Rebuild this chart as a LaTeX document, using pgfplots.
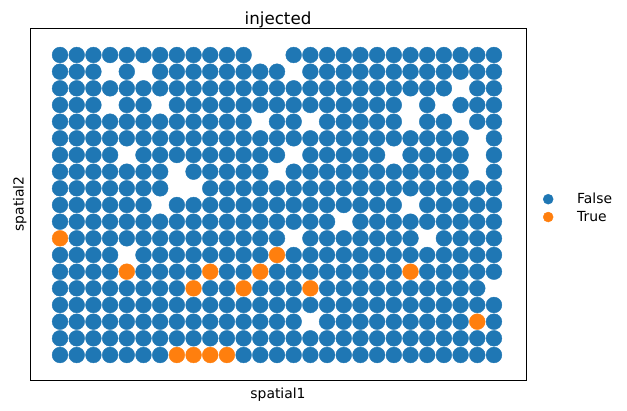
\documentclass[border=0pt]{standalone}
\usepackage{pgfplots}
\pgfplotsset{compat=1.18}
\usepackage{fontspec}
\setmainfont{DejaVu Sans}
\definecolor{tabblue}{HTML}{1F77B4}
\definecolor{taborange}{HTML}{FF7F0E}
\begin{document}
\begin{tikzpicture}[x=1pt,y=1pt]
\begin{axis}[
  scale only axis,
  width=496pt, height=352pt,
  xmin=-1.80, xmax=27.92,
  ymin=-1.62, ymax=19.5,
  y dir=reverse,
  xtick=\empty, ytick=\empty,
  axis line style={line width=0.8pt},
  title={\fontsize{16.7}{19}\selectfont injected},
  title style={yshift=-10pt},
  xlabel={\fontsize{13.9}{16}\selectfont spatial1},
  xlabel style={yshift=-4pt},
  ylabel={\fontsize{13.9}{16}\selectfont spatial2},
  legend style={draw=none, fill=none, at={(1.0,0.5)}, anchor=west, xshift=14pt, yshift=-4pt, font=\fontsize{13.9}{16}\selectfont, row sep=2pt, column sep=22pt},
  legend cell align=left,
]
\addlegendimage{only marks, mark=*, mark size=5pt, color=tabblue}
\addlegendentry{False}
\addlegendimage{only marks, mark=*, mark size=5pt, color=taborange}
\addlegendentry{True}
\addplot[forget plot, only marks, mark=*, mark size=7.9pt, color=tabblue, mark options={draw=none}] coordinates {
(0,0)(1,0)(2,0)(3,0)(4,0)(5,0)(6,0)(7,0)(8,0)(9,0)(10,0)(11,0)(14,0)(15,0)(16,0)(17,0)(18,0)(19,0)(20,0)(21,0)(22,0)(23,0)(24,0)(25,0)(26,0)
(0,1)(1,1)(2,1)(4,1)(6,1)(7,1)(8,1)(9,1)(10,1)(11,1)(12,1)(13,1)(15,1)(16,1)(17,1)(18,1)(19,1)(20,1)(21,1)(22,1)(23,1)(24,1)(25,1)(26,1)
(0,2)(1,2)(2,2)(3,2)(4,2)(5,2)(6,2)(7,2)(8,2)(9,2)(10,2)(11,2)(12,2)(13,2)(14,2)(15,2)(16,2)(17,2)(18,2)(19,2)(20,2)(21,2)(22,2)(23,2)(25,2)(26,2)
(0,3)(1,3)(2,3)(4,3)(5,3)(7,3)(8,3)(9,3)(10,3)(11,3)(12,3)(13,3)(14,3)(15,3)(16,3)(17,3)(18,3)(19,3)(20,3)(22,3)(24,3)(25,3)(26,3)
(0,4)(1,4)(2,4)(3,4)(4,4)(5,4)(6,4)(7,4)(8,4)(9,4)(10,4)(11,4)(13,4)(14,4)(16,4)(17,4)(18,4)(19,4)(20,4)(22,4)(23,4)(25,4)(26,4)
(0,5)(1,5)(2,5)(3,5)(4,5)(5,5)(6,5)(7,5)(8,5)(9,5)(10,5)(11,5)(12,5)(13,5)(14,5)(15,5)(16,5)(17,5)(18,5)(19,5)(20,5)(21,5)(22,5)(23,5)(24,5)(26,5)
(0,6)(1,6)(2,6)(3,6)(5,6)(6,6)(7,6)(8,6)(9,6)(10,6)(11,6)(12,6)(13,6)(15,6)(16,6)(17,6)(18,6)(19,6)(21,6)(22,6)(23,6)(24,6)(26,6)
(0,7)(1,7)(2,7)(3,7)(4,7)(5,7)(6,7)(8,7)(9,7)(10,7)(11,7)(12,7)(14,7)(15,7)(16,7)(17,7)(18,7)(19,7)(20,7)(21,7)(22,7)(23,7)(24,7)(26,7)
(0,8)(1,8)(2,8)(3,8)(4,8)(5,8)(6,8)(9,8)(10,8)(11,8)(12,8)(13,8)(14,8)(15,8)(16,8)(17,8)(18,8)(19,8)(20,8)(21,8)(22,8)(23,8)(24,8)(25,8)(26,8)
(0,9)(1,9)(2,9)(3,9)(4,9)(5,9)(7,9)(8,9)(9,9)(10,9)(11,9)(12,9)(13,9)(14,9)(15,9)(16,9)(17,9)(18,9)(19,9)(20,9)(22,9)(23,9)(24,9)(25,9)(26,9)
(0,10)(1,10)(2,10)(3,10)(4,10)(5,10)(6,10)(7,10)(8,10)(9,10)(10,10)(11,10)(12,10)(13,10)(14,10)(15,10)(16,10)(18,10)(19,10)(20,10)(21,10)(22,10)(23,10)(24,10)(25,10)(26,10)
(1,11)(2,11)(3,11)(4,11)(5,11)(6,11)(7,11)(8,11)(9,11)(10,11)(11,11)(12,11)(13,11)(15,11)(16,11)(17,11)(18,11)(19,11)(20,11)(21,11)(23,11)(24,11)(25,11)(26,11)
(0,12)(1,12)(2,12)(3,12)(5,12)(6,12)(7,12)(8,12)(9,12)(10,12)(11,12)(12,12)(14,12)(15,12)(16,12)(17,12)(18,12)(19,12)(20,12)(21,12)(22,12)(23,12)(24,12)(25,12)(26,12)
(0,13)(1,13)(2,13)(3,13)(5,13)(6,13)(7,13)(8,13)(10,13)(11,13)(13,13)(14,13)(15,13)(16,13)(17,13)(18,13)(19,13)(20,13)(22,13)(23,13)(24,13)(25,13)(26,13)
(0,14)(1,14)(2,14)(3,14)(4,14)(5,14)(6,14)(7,14)(9,14)(10,14)(12,14)(13,14)(14,14)(16,14)(17,14)(18,14)(19,14)(20,14)(21,14)(22,14)(23,14)(24,14)(25,14)
(0,15)(1,15)(2,15)(3,15)(4,15)(5,15)(6,15)(7,15)(8,15)(9,15)(10,15)(11,15)(12,15)(13,15)(14,15)(15,15)(16,15)(17,15)(18,15)(19,15)(20,15)(21,15)(22,15)(23,15)(24,15)(25,15)(26,15)
(0,16)(1,16)(2,16)(3,16)(4,16)(5,16)(6,16)(7,16)(8,16)(9,16)(10,16)(11,16)(12,16)(13,16)(14,16)(16,16)(17,16)(18,16)(19,16)(20,16)(21,16)(22,16)(23,16)(24,16)(26,16)
(0,17)(1,17)(2,17)(3,17)(4,17)(5,17)(6,17)(7,17)(8,17)(9,17)(10,17)(11,17)(12,17)(13,17)(14,17)(15,17)(16,17)(17,17)(18,17)(19,17)(20,17)(21,17)(22,17)(23,17)(24,17)(25,17)(26,17)
(0,18)(1,18)(2,18)(3,18)(4,18)(5,18)(6,18)(11,18)(12,18)(13,18)(14,18)(15,18)(16,18)(17,18)(18,18)(19,18)(20,18)(21,18)(22,18)(23,18)(24,18)(25,18)(26,18)
};
\addplot[forget plot, only marks, mark=*, mark size=7.9pt, color=taborange, mark options={draw=none}] coordinates {
(0,11)(13,12)(4,13)(9,13)(12,13)(21,13)(8,14)(11,14)(15,14)(25,16)(7,18)(8,18)(9,18)(10,18)
};
\end{axis}
\path (current axis.south west) ++(-30pt,-30pt) coordinate (bbsw);
\path (current axis.north east) ++(101pt,28pt) coordinate (bbne);
\useasboundingbox (bbsw) rectangle (bbne);
\end{tikzpicture}
\end{document}
